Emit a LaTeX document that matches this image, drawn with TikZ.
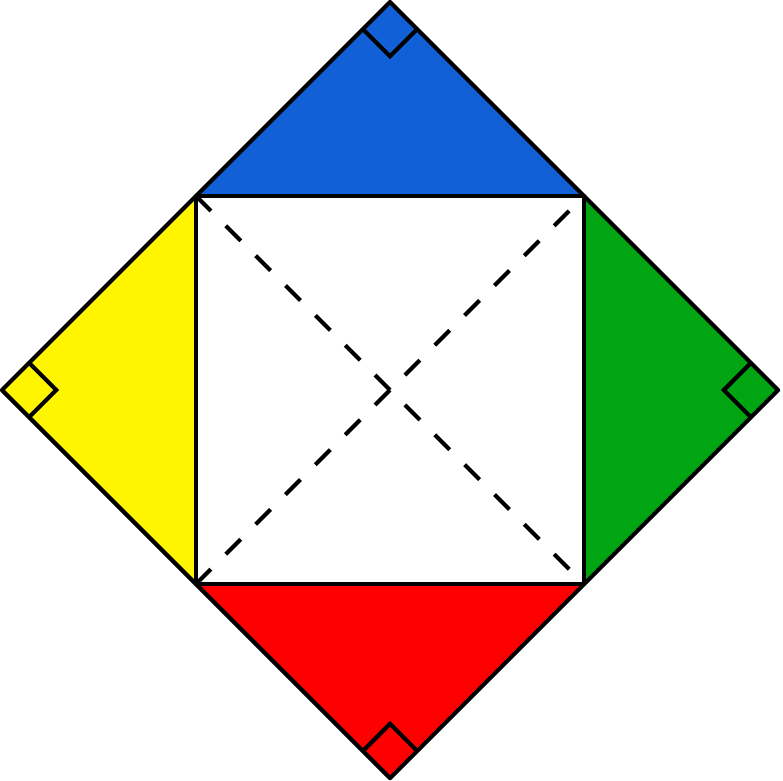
\documentclass[tikz,border=0pt]{standalone}
\usepackage{tikz}
\usetikzlibrary{calc}
\definecolor{topblue}{RGB}{17,96,216}
\definecolor{rightgreen}{RGB}{0,165,17}
\definecolor{bottomred}{RGB}{255,0,0}
\definecolor{leftyellow}{RGB}{255,245,0}

\begin{document}
\begin{tikzpicture}[%
			edge/.style={line width=1.2pt, line join=round},
			diag/.style={line width=1.2pt, dash pattern=on 6.19pt off 6.19pt},
			rightangle/.style={line width=1.2pt, line join=miter}]
			\useasboundingbox (-4.02,-4.02) rectangle (4.05,4.02);
			\coordinate (top) at (0,4);
			\coordinate (right) at (4,0);
			\coordinate (bottom) at (0,-4);
			\coordinate (left) at (-4,0);
			\coordinate (tl) at (-2,2);
			\coordinate (tr) at (2,2);
			\coordinate (br) at (2,-2);
			\coordinate (bl) at (-2,-2);
			\fill[topblue] (tl) -- (top) -- (tr) -- cycle;
			\fill[rightgreen] (tr) -- (right) -- (br) -- cycle;
			\fill[bottomred] (br) -- (bottom) -- (bl) -- cycle;
			\fill[leftyellow] (bl) -- (left) -- (tl) -- cycle;
			\draw[diag] (tl) -- (br);
			\draw[diag] (bl) -- (tr);
			\draw[edge] (tl) rectangle (br);
			\draw[edge] (top) -- (right) -- (bottom) -- (left) -- cycle;
			\draw[rightangle] ($(top)+(-0.28,-0.28)$) -- ++(0.28,-0.28) -- ++(0.28,0.28);
			\draw[rightangle] ($(right)+(-0.28,0.28)$) -- ++(-0.28,-0.28) -- ++(0.28,-0.28);
			\draw[rightangle] ($(bottom)+(-0.28,0.28)$) -- ++(0.28,0.28) -- ++(0.28,-0.28);
			\draw[rightangle] ($(left)+(0.28,0.28)$) -- ++(0.28,-0.28) -- ++(-0.28,-0.28);
	\end{tikzpicture}
\end{document}
